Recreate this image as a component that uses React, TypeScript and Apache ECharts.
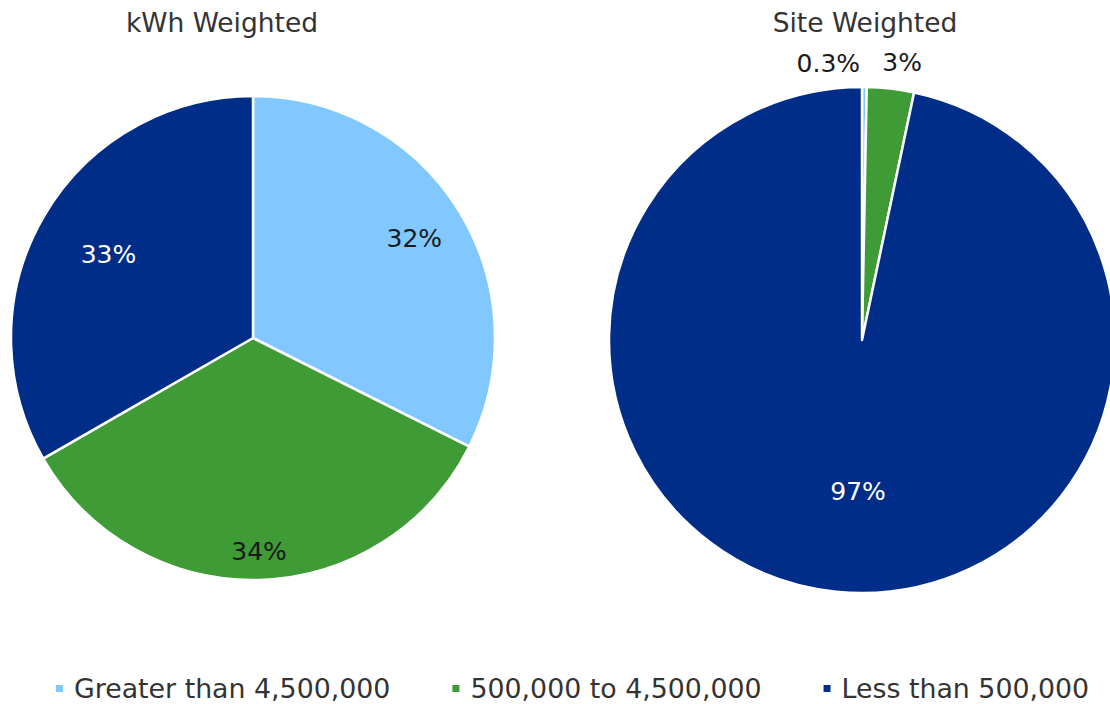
import React, { useEffect, useRef } from "react";
import * as echarts from "echarts";

const categories = ["Greater than 4,500,000", "500,000 to 4,500,000", "Less than 500,000"];
const kwhShares = [32.4, 34.3, 33.3];
const siteShares = [0.3, 3.0, 96.7];
const titles = ["kWh Weighted", "Site Weighted"];
const sliceColors = ["#80C8FF", "#3E9B36", "#002D88"];
const kwhLabelColors = ["#1a1a1a", "#1a1a1a", "#ffffff"];

const FONT = "'DejaVu Sans', Verdana, sans-serif";
const fmt = (v: number) => (v < 1 ? v.toFixed(1) : String(Math.round(v))) + "%";

export default function App() {
  const ref = useRef<HTMLDivElement>(null);
  useEffect(() => {
    document.body.style.margin = "0";
    const chart = echarts.init(ref.current!, null, { renderer: "svg" });
    const mainData = (vals: number[]) =>
      vals.map((v, i) => ({ name: categories[i], value: v, itemStyle: { color: sliceColors[i] } }));
    const overlayData = (vals: number[], showIdx: number, colors: string[]) =>
      vals.map((v, i) => ({
        name: categories[i],
        value: v,
        itemStyle: { color: "rgba(0,0,0,0)", borderWidth: 0 },
        label: { show: i === showIdx, color: colors[i] },
      }));
    const labelText = { fontFamily: FONT, fontSize: 25 };
    const titleStyle = { fontFamily: FONT, fontSize: 26.5, fontWeight: "normal", color: "#333" };

    // inner radii of invisible label rings (left pie) so each label sits where the reference puts it
    const leftInner = [131, 179, 86];
    const leftOverlays = kwhShares.map((_, idx) => ({
      type: "pie",
      center: [253, 338],
      radius: [leftInner[idx], 242],
      startAngle: 90,
      clockwise: true,
      silent: true,
      label: { show: true, position: "inside", formatter: (p: any) => fmt(p.value), ...labelText },
      labelLine: { show: false },
      emphasis: { disabled: true },
      data: overlayData(kwhShares, idx, kwhLabelColors),
    }));

    chart.setOption({
      animation: false,
      backgroundColor: "#ffffff",
      title: [
        { text: titles[0], left: 217, top: 4, textAlign: "center", textStyle: titleStyle },
        { text: titles[1], left: 860, top: 4, textAlign: "center", textStyle: titleStyle },
      ],
      legend: {
        data: categories,
        left: 54,
        right: 0,
        top: 675,
        padding: 0,
        icon: "rect",
        itemWidth: 9,
        itemHeight: 9,
        itemGap: 60,
        textStyle: { fontFamily: FONT, fontSize: 26.8, color: "#333", padding: [0, 0, 0, 5] },
      },
      series: [
        {
          type: "pie",
          center: [253, 338],
          radius: 242,
          startAngle: 90,
          clockwise: true,
          label: { show: false },
          labelLine: { show: false },
          itemStyle: { borderColor: "#ffffff", borderWidth: 2.5 },
          emphasis: { disabled: true },
          data: mainData(kwhShares),
        },
        ...leftOverlays,
        {
          type: "pie",
          center: [862, 340],
          radius: 253,
          startAngle: 90,
          clockwise: true,
          avoidLabelOverlap: false,
          label: { show: true, position: "outside", formatter: (p: any) => fmt(p.value), color: "#1a1a1a", ...labelText },
          labelLine: { show: false, length: 24, length2: 0 },
          labelLayout: (p: any) => {
            if (p.dataIndex === 0) return { dx: -73, dy: 0 };
            if (p.dataIndex === 1) return { dx: -16, dy: -2 };
            return {};
          },
          itemStyle: { borderColor: "#ffffff", borderWidth: 2.5 },
          emphasis: { disabled: true },
          data: siteShares.map((v, i) => ({
            name: categories[i],
            value: v,
            itemStyle: { color: sliceColors[i] },
            label: { show: i < 2 },
          })),
        },
        {
          type: "pie",
          center: [862, 340],
          radius: [50, 253],
          startAngle: 90,
          clockwise: true,
          silent: true,
          label: { show: true, position: "inside", formatter: (p: any) => fmt(p.value), ...labelText },
          labelLine: { show: false },
          labelLayout: { dx: 12, dy: -2 },
          emphasis: { disabled: true },
          data: overlayData(siteShares, 2, ["#fff", "#fff", "#ffffff"]),
        },
      ],
    });
    return () => chart.dispose();
  }, []);
  return <div ref={ref} style={{ position: "absolute", left: 0, top: 0, width: 1110, height: 704 }} />;
}
